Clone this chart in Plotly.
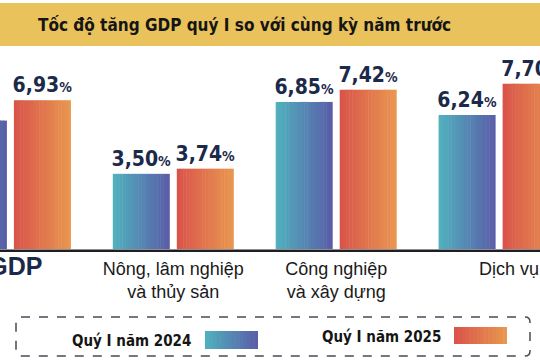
import plotly.graph_objects as go

# ---------------- data ----------------
categories = ["GDP", "Nông, lâm nghiệp<br>và thủy sản", "Công nghiệp<br>và xây dựng", "Dịch vụ"]
series_names = ["Quý I năm 2024", "Quý I năm 2025"]
values_2024 = [5.98, 3.50, 6.85, 6.24]
values_2025 = [6.93, 3.74, 7.42, 7.70]
title_text = "Tốc độ tăng GDP quý I so với cùng kỳ năm trước"

# ---------------- style ----------------
W, H = 540, 360
M_T, M_B = 45, 111
PLOT_H = H - M_T - M_B
grad_2024 = [(80, 178, 190), (90, 92, 168)]
grad_2025 = [(217, 83, 74), (233, 152, 80)]
NAVY = "#1c2a4a"
NARROW = "DejaVu Sans Condensed, Liberation Sans Narrow, sans-serif"
SANS = "Liberation Sans, Arial, sans-serif"

PX_PER_CAT = 162.9
FIRST_CAT_PX = 10.4
x0 = -FIRST_CAT_PX / PX_PER_CAT
x1 = x0 + W / PX_PER_CAT
bar_w = 57 / PX_PER_CAT
gap = 7 / PX_PER_CAT
N = 18


def lerp(c, t):
    a, b = c
    return "rgb(%d,%d,%d)" % tuple(round(a[i] + (b[i] - a[i]) * t) for i in range(3))


def fmt(v):
    return ("%.2f" % v).replace(".", ",") + "<span style='font-size:14px'>%</span>"


xs = list(range(len(categories)))
fig = go.Figure()

for vals, grad, base_off in [(values_2024, grad_2024, -bar_w - gap / 2),
                             (values_2025, grad_2025, gap / 2)]:
    sw = bar_w / N
    for k in range(N):
        fig.add_trace(go.Bar(
            x=xs, y=vals, width=sw * 1.15 if k < N - 1 else sw,
            offset=base_off + k * sw,
            marker=dict(color=lerp(grad, (k + 0.5) / N), line=dict(width=0)),
            hoverinfo="skip", showlegend=False))
    # transparent bar carrying the value labels
    fig.add_trace(go.Bar(
        x=xs, y=vals, width=bar_w, offset=base_off,
        marker=dict(color="rgba(0,0,0,0)", line=dict(width=0)),
        text=["<b>" + fmt(v) + "</b>" for v in vals], textposition="outside",
        textfont=dict(family=NARROW, size=21, color=NAVY),
        constraintext="none", cliponaxis=False,
        hoverinfo="skip", showlegend=False))

NB = "&nbsp;"
ticktext = ([NB * 2 + "<b><span style='font-size:25px;color:%s'>%s</span></b>" % (NAVY, categories[0])]
            + categories[1:3] + [NB * 4 + categories[3]])

fig.update_layout(
    width=W, height=H,
    margin=dict(l=0, r=0, t=M_T, b=M_B, autoexpand=False),
    paper_bgcolor="white", plot_bgcolor="white",
    barmode="overlay", showlegend=False,
    xaxis=dict(range=[x0, x1], tickvals=xs, ticktext=ticktext, showgrid=False,
               zeroline=False, showline=False,
               ticks="", tickfont=dict(family=SANS, size=18, color="#1a1a1a"),
               ticklabelstandoff=7, ticklabeloverflow="allow", automargin=False),
    yaxis=dict(range=[0, 9.5], visible=False, automargin=False),
)


def py(p):
    return (H - M_B - p) / PLOT_H


def pxx(p):
    return p / W


def rounded_rect_path(l, t, r, b, rad):
    pts = []
    pts.append("M %f,%f" % (pxx(l + rad), py(t)))
    pts.append("L %f,%f" % (pxx(r - rad), py(t)))
    pts.append("Q %f,%f %f,%f" % (pxx(r), py(t), pxx(r), py(t + rad)))
    pts.append("L %f,%f" % (pxx(r), py(b - rad)))
    pts.append("Q %f,%f %f,%f" % (pxx(r), py(b), pxx(r - rad), py(b)))
    pts.append("L %f,%f" % (pxx(l + rad), py(b)))
    pts.append("Q %f,%f %f,%f" % (pxx(l), py(b), pxx(l), py(b - rad)))
    pts.append("L %f,%f" % (pxx(l), py(t + rad)))
    pts.append("Q %f,%f %f,%f Z" % (pxx(l), py(t), pxx(l + rad), py(t)))
    return " ".join(pts)


shapes = []
# title band
shapes.append(dict(type="rect", xref="paper", yref="paper", x0=0, x1=1,
                   y0=py(46), y1=py(3), fillcolor="#e9c25c", line=dict(width=0), layer="below"))
# baseline (drawn as a thin filled band so it renders crisply)
shapes.append(dict(type="rect", xref="paper", yref="paper", x0=0, x1=1,
                   y0=py(252), y1=py(249.5), fillcolor="#1e1e24", line=dict(width=0), layer="above"))
# legend dashed frame
shapes.append(dict(type="path", xref="paper", yref="paper",
                   path=rounded_rect_path(16, 317, 530, 356, 5), fillcolor="rgba(0,0,0,0)",
                   line=dict(color="#4a4a5a", width=1.5, dash="dash")))
# legend gradient swatches
for grad, (sx0, sx1, sy0, sy1) in [(grad_2024, (205, 258, 331, 349)), (grad_2025, (454, 507, 327, 344))]:
    n = 14
    step = (sx1 - sx0) / n
    for k in range(n):
        shapes.append(dict(type="rect", xref="paper", yref="paper",
                           x0=pxx(sx0 + k * step), x1=pxx(sx0 + (k + 1) * step + (0.6 if k < n - 1 else 0)),
                           y0=py(sy1), y1=py(sy0), fillcolor=lerp(grad, (k + 0.5) / n), line=dict(width=0)))
fig.update_layout(shapes=shapes)

annotations = [
    dict(text="<b>" + title_text + "</b>", xref="paper", yref="paper", x=pxx(36), y=py(25),
         xanchor="left", yanchor="middle", showarrow=False,
         font=dict(family=NARROW, size=17, color="#151515")),
    dict(text="<b>" + series_names[0] + "</b>", xref="paper", yref="paper", x=pxx(131), y=py(341),
         xanchor="center", yanchor="middle", showarrow=False,
         font=dict(family=NARROW, size=15, color="#151515")),
    dict(text="<b>" + series_names[1] + "</b>", xref="paper", yref="paper", x=pxx(381), y=py(337),
         xanchor="center", yanchor="middle", showarrow=False,
         font=dict(family=NARROW, size=15, color="#151515")),
]
fig.update_layout(annotations=annotations)

fig.write_html("out.html", config={"displayModeBar": False},
               post_script="document.body.style.margin='0';document.body.style.padding='0';")
